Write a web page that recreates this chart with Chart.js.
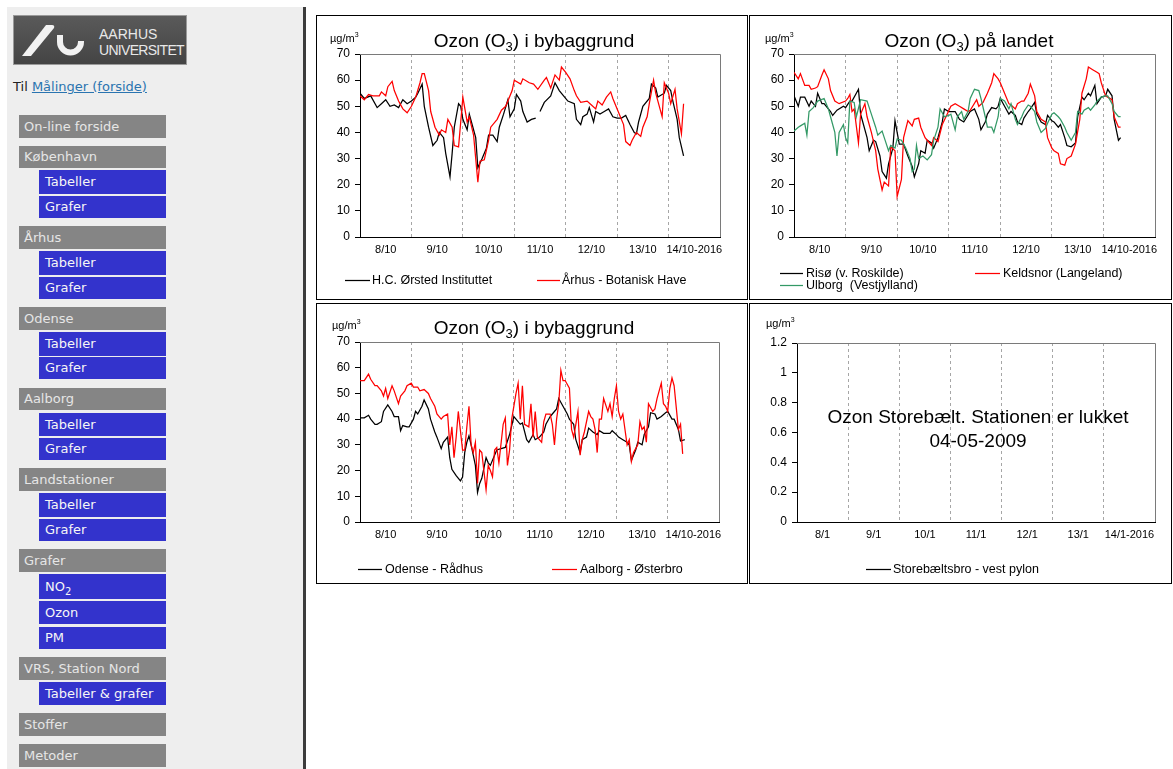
<!DOCTYPE html>
<html lang="da">
<head>
<meta charset="utf-8">
<title>Ozon (O₃) – målinger</title>
<script src="https://cdn.jsdelivr.net/npm/chart.js@4/dist/chart.umd.min.js"></script>
<style>
  html, body { margin: 0; padding: 0; background: #fff; }
  body { width: 1173px; height: 769px; position: relative; overflow: hidden;
         font-family: "DejaVu Sans", Verdana, sans-serif; }
  #side { position: absolute; left: 7px; top: 7px; width: 296px; height: 762px; background: #eeeeee; }
  #rule { position: absolute; left: 303px; top: 7px; width: 3px; height: 762px; background: #3c3c3c; }
  #logo { position: absolute; left: 13px; top: 15px; width: 174px; height: 50px; }
  #til { position: absolute; left: 13px; top: 79px; font-size: 13px; line-height: 16px; color: #222; }
  #til a { color: #2a74b0; text-decoration: underline; }
  .h, .s { position: absolute; font-size: 13px; box-sizing: border-box; white-space: nowrap; }
  .h { left: 19px; width: 147px; background: #858585; color: #e6e6e6; padding-left: 5px; }
  .s { left: 39px; width: 127px; background: #3333cc; color: #f6f6f6; padding-left: 6px; }
  .s sub { font-size: 10px; line-height: 0; vertical-align: -4px; }
  .panel { position: absolute; border: 1px solid #000; background: #fff; }
  .panel canvas { display: block; }
</style>
</head>
<body>
<div id="side"></div>
<div id="rule"></div>

<svg id="logo" width="174" height="50" viewBox="0 0 174 50" xmlns="http://www.w3.org/2000/svg">
  <defs>
    <linearGradient id="lg" x1="0" y1="0" x2="0" y2="1">
      <stop offset="0" stop-color="#5a5a5a"/>
      <stop offset="1" stop-color="#444444"/>
    </linearGradient>
  </defs>
  <rect x="0.5" y="0.5" width="173" height="49" fill="url(#lg)" stroke="#9a9a9a"/>
  <path d="M9,41 L18,41 L41,13 Q42,10 39,10 L33,10 Z" fill="#f2f2f2"/>
  <path d="M47,20 V27 A10.5,10.5 0 0 0 68,27 V26" fill="none" stroke="#f2f2f2" stroke-width="6"/>
  <text x="86" y="24" font-family="Liberation Sans, Arial, sans-serif" font-size="14" fill="#e8e8e8">AARHUS</text>
  <text x="86" y="40" font-family="Liberation Sans, Arial, sans-serif" font-size="14" letter-spacing="-0.7" fill="#e8e8e8">UNIVERSITET</text>
</svg>

<div id="til">Til <a href="#">Målinger (forside)</a></div>

<div class="h" style="top:115px;height:23px;line-height:23px">On-line forside</div>
<div class="h" style="top:146px;height:22px;line-height:22px">København</div>
<div class="s" style="top:170px;height:24px;line-height:24px">Tabeller</div>
<div class="s" style="top:196px;height:22px;line-height:22px">Grafer</div>
<div class="h" style="top:226px;height:23px;line-height:23px">Århus</div>
<div class="s" style="top:251px;height:24px;line-height:24px">Tabeller</div>
<div class="s" style="top:277px;height:22px;line-height:22px">Grafer</div>
<div class="h" style="top:307px;height:23px;line-height:23px">Odense</div>
<div class="s" style="top:332px;height:24px;line-height:24px">Tabeller</div>
<div class="s" style="top:357px;height:22px;line-height:22px">Grafer</div>
<div class="h" style="top:388px;height:22px;line-height:22px">Aalborg</div>
<div class="s" style="top:413px;height:23px;line-height:23px">Tabeller</div>
<div class="s" style="top:438px;height:22px;line-height:22px">Grafer</div>
<div class="h" style="top:468px;height:23px;line-height:23px">Landstationer</div>
<div class="s" style="top:493px;height:24px;line-height:24px">Tabeller</div>
<div class="s" style="top:519px;height:22px;line-height:22px">Grafer</div>
<div class="h" style="top:549px;height:23px;line-height:23px">Grafer</div>
<div class="s" style="top:574px;height:25px;line-height:25px">NO<sub>2</sub></div>
<div class="s" style="top:601px;height:23px;line-height:23px">Ozon</div>
<div class="s" style="top:627px;height:22px;line-height:22px">PM</div>
<div class="h" style="top:657px;height:23px;line-height:23px">VRS, Station Nord</div>
<div class="s" style="top:682px;height:23px;line-height:23px">Tabeller &amp; grafer</div>
<div class="h" style="top:713px;height:23px;line-height:23px">Stoffer</div>
<div class="h" style="top:744px;height:23px;line-height:23px">Metoder</div>

<div class="panel" style="left:316px;top:15px;width:430px;height:283px"><canvas id="c1" width="430" height="283"></canvas></div>
<div class="panel" style="left:749px;top:15px;width:421px;height:283px"><canvas id="c2" width="421" height="283"></canvas></div>
<div class="panel" style="left:316px;top:303px;width:430px;height:279px"><canvas id="c3" width="430" height="279"></canvas></div>
<div class="panel" style="left:749px;top:303px;width:421px;height:279px"><canvas id="c4" width="421" height="279"></canvas></div>

<script>
// ---- Axis labels -------------------------------------------------------
const octoberDays = ['8/10', '9/10', '10/10', '11/10', '12/10', '13/10', '14/10-2016'];
const januaryDays = ['8/1', '9/1', '10/1', '11/1', '12/1', '13/1', '14/1-2016'];

// ---- Ozone (µg/m³), hours counted from the start of 8/10 ---------------
// Bybaggrund: H.C. Ørsted Instituttet (null = missing measurements)
const hcoHours = [0,2,5,8,10,12,14,16,18,20,22,24,26,27,29,30,32,34,36,37,39,40,42,43,44,46,47,48,50,51,52,54,55,57,59,60,62,64,65,67,69,70,72,73,75,76,78,80,82,83,84,86,89,91,93,95,97,100,101,103,104,106,107,109,110,112,114,116,118,120,122,124,126,128,129,130,132,135,136,138,139,142,143,145,146,148,149,151];
const hcoValues = [55,53,54,49.5,51,52.5,50,50.5,49.5,52.5,51,52,53.5,55,58.5,50,42,35,37,40,38,32,23,32,42,51,50,45,41,47,44,38,26.5,30,34,39,39,36.5,42,47,52.5,46,49,54.5,52,48,44,45,45.5,null,48,51.5,54,59,56,54,52,51,45,43,46,47,49.5,44,48,47,48,49,46,45.5,45.5,46.5,43,40,39.5,44,50,53,58.5,57,53.5,55,58,56,52,45,38,31];

// Bybaggrund: Århus - Botanisk Have
const aarhusHours = [0,2,4,6,9,10,12,13,15,16,18,20,22,24,26,28,29,30,32,33,35,37,38,40,41,43,44,46,47,48,50,51,53,55,56,58,60,61,64,66,68,71,72,75,76,79,81,83,86,87,89,91,93,94,96,98,100,101,103,106,108,110,111,113,115,117,118,120,123,124,126,127,129,131,132,134,135,137,138,140,141,142,144,145,147,148,150,151];
const aarhusValues = [54,52.5,54.5,54,54,55.5,54,57.5,59.5,56,52,49,47.5,50,53.5,59,62.5,62.5,56,48,42,39,41,40,45,42,35,34.5,44,53.5,44,46,39,21,29,29.5,37,42,45,48.5,50,56,60,58.5,60.5,59,58.5,56.5,60,61,57,62,60,65,63,60.5,56,54,51.5,52,50.5,49,52,50.5,53.5,55.5,53,49,43,36.5,35,37,40,38.5,42,46,51,60,55,49,46,59,55,51,56.5,49,39.5,51];

// Landet: Risø (v. Roskilde)
const risoHours = [0,2,3,5,7,8,10,11,13,14,17,18,20,23,24,26,27,29,30,31,32,34,35,37,38,40,41,43,44,46,47,48,49,51,53,55,56,58,59,61,62,64,65,67,69,70,72,73,75,77,79,82,84,86,87,89,90,92,94,95,96,98,100,101,103,104,106,107,109,110,112,113,115,117,118,120,121,123,124,126,127,129,131,132,134,135,137,138,140,141,143,145,146,148,149,151,152];
const risoValues = [54,50,53.5,53.5,50,52,50,55,51,51,48,46.5,48.5,50,49.5,52,52,55,56.5,47,44,38,33,37,36.5,31,25,22.5,28,34,44.5,40,35.5,35.5,31,27,23,28,33,32,37,36,34,38,44,49,48,48,48,45,44,48,49,45,41,44,47,49.5,49,50,53,50,47,48,46.5,44,43,45.5,48,49,51.5,47,44,43,46.5,44.5,44,42,43,38,35,34.5,36,46,53.5,52.5,55,54,58,51,53.5,54,56.5,54,45,37,38];

// Landet: Keldsnor (Langeland)
const keldsnorHours = [0,2,3,5,7,8,10,11,13,14,16,17,19,21,24,25,26,27,28,30,31,33,34,36,38,39,41,42,44,45,47,48,50,51,53,55,56,58,59,61,62,64,65,67,69,71,73,75,77,79,81,82,85,86,88,90,92,93,95,96,98,100,101,103,104,106,107,109,110,112,113,115,117,118,120,121,123,124,126,127,129,131,133,134,136,137,139,141,142,143,145,146,148,149,151,152];
const keldsnorValues = [63,60.5,62.5,58,58,56.5,57,57.5,62,64,60.5,56,52,51,52,53,54.5,48,49,36,47,51,46,40,33,26,18,21,19.5,34.5,33,15.5,22,38,44.5,42.5,45,45.5,42,38,37,35,38,36.5,43,46.5,50,51,50,49,48,48.5,52.5,50,51.5,55,59,62.5,60.5,59,55,51,50.5,49,51,52,52,55,58.5,54,48,45,44,38,34,33,32,28,27.5,30,31,35.5,45,55,60.5,65,64,63,62.5,59,54,53.5,52.5,46,42,42];

// Landet: Ulborg (Vestjylland)
const ulborgHours = [0,2,3,5,6,7,9,11,14,16,17,19,20,21,23,24,25,26,28,29,31,34,36,38,39,41,42,44,45,47,48,50,52,54,55,56,57,58,60,62,64,65,67,68,70,72,73,75,76,78,79,81,82,84,86,87,89,90,92,93,95,96,98,100,101,103,104,106,107,109,110,112,113,115,117,118,120,121,123,124,126,127,129,131,132,134,135,137,138,140,141,143,145,146,148,149,151,152];
const ulborgValues = [40.5,42,42.5,43.5,39,48,49.5,52,53,49,46,40,31,40,43,38,36,52,51.5,46,52.5,52,47,42,39,40.5,38,33,35,34,37.5,37,34,30,25,26,35,30,31,29.5,31.5,37,42,49,46,46.5,47,41,46,48,45,48,53,56.5,56,53,46,42,42,40,46,53,52,49,51,45,43,46,48,50.5,50,48,44,40,41.5,43.5,47,47.5,46,45,42,40,37,40,48,47,48.5,49.5,48.5,50.5,52,53.5,54,54,51,48,46,46];

// Bybaggrund: Odense - Rådhus
const odenseHours = [0,2,4,5,7,8,10,11,13,15,16,18,19,20,22,23,25,26,27,29,30,32,33,35,36,38,39,41,42,43,45,47,48,49,50,51,52,54,55,56,57,59,60,61,64,66,68,70,72,73,75,76,78,79,81,82,84,86,87,89,90,92,93,95,97,98,100,101,103,104,106,107,109,111,112,114,115,117,118,120,121,123,125,126,127,129,130,132,133,135,136,138,139,141,143,144,146,147,149,150,152];
const odenseValues = [40.5,40.5,41.5,40,38,38,39,43,45.5,43,41,41,35.5,37.5,37,37,40,43,42,45,47.5,44,40,35,33,28.5,31,33,25,20.5,18,16,17.5,27,31,33.5,30,22,11.5,15,17,25,23,22,28,28.5,29,34,41,40,38,38.5,32,31,34,32,33,35,38,41,42,44,48,45,42,40,38,32,27,32,33,36.5,35,34,35.5,34.5,34.5,34.5,35.5,34,33,32,31,30,24,28,31,30,34,37,42.5,42,40,41,42.5,43,40,40,36,31.5,32];

// Bybaggrund: Aalborg - Østerbro
const aalborgHours = [0,2,4,5,7,8,10,11,12,13,15,16,18,19,21,22,24,25,27,28,30,32,33,35,36,38,39,41,42,43,44,45,46,48,49,50,51,52,53,54,55,56,57,59,60,61,62,63,64,65,67,68,69,70,71,73,74,75,76,77,79,80,81,82,83,85,86,87,89,90,91,92,93,94,95,96,98,99,100,101,102,103,104,105,107,108,109,110,111,112,113,114,116,117,118,119,120,121,122,123,125,126,127,128,130,131,132,133,134,135,137,138,139,141,142,143,144,145,146,147,149,150,151];
const aalborgValues = [55,55,57.5,55.5,53,53,51,49,52,48,53,51,46,49,51,53,54,52.5,52.5,51,51.5,50,48,45,42,40,41,42,30,37,25,33,43,28,28,37,45,30,27,31,15,28,27,12.5,22,20,17.5,28,29,23,38,40.5,22,28,40,50,54,40,53,38,37,46,33,43,33,31,39,42,42,38,30,40,46,59,55,55,52,36,33,38,43,26,32,35,43,41,40,36,27,40,40,48,43,46,41,48,53,43,40,42,30,32,23.5,27,30,39,36,37,31,46,43,44,48,54,46,45,43,52,56,53,36,38,26.5];

// Storebæltsbro - vest pylon: station closed, no measurements
const storebaeltHours = [];
const storebaeltValues = [];

// ---- Drawing ------------------------------------------------------------
const FONT = "'Liberation Sans', Arial, Helvetica, sans-serif";
Chart.defaults.font.family = FONT;
Chart.defaults.color = '#000';

function toPoints(hours, values) {
  return hours.map((h, i) => ({ x: h, y: values[i] }));
}

// Draws a row of text pieces where some pieces are sub- or superscripts.
function drawRuns(ctx, runs, x, base, size, centred) {
  const fontOf = k => (k ? Math.round(size * 0.68) : size) + 'px ' + FONT;
  const widths = runs.map(([t, k]) => { ctx.font = fontOf(k); return ctx.measureText(t).width; });
  const total = widths.reduce((a, b) => a + b, 0);
  let cx = centred ? x - total / 2 : x;
  ctx.textBaseline = 'alphabetic';
  ctx.textAlign = 'left';
  runs.forEach(([t, k], i) => {
    ctx.font = fontOf(k);
    const dy = k === 'sub' ? size * 0.2 : (k === 'sup' ? -size * 0.42 : 0);
    ctx.fillText(t, cx, base + dy);
    cx += widths[i];
  });
}

// Frame, title, unit, legend and notes of one chart panel.
function panelDecor(spec) {
  return {
    id: 'panelDecor',
    afterDraw(chart) {
      const { ctx, chartArea: a } = chart;
      ctx.save();
      ctx.strokeStyle = '#7a7a7a';
      ctx.lineWidth = 1;
      ctx.setLineDash([]);
      ctx.beginPath();
      ctx.moveTo(Math.round(a.left), Math.round(a.top) + 0.5);
      ctx.lineTo(Math.round(a.right) + 0.5, Math.round(a.top) + 0.5);
      ctx.lineTo(Math.round(a.right) + 0.5, Math.round(a.bottom));
      ctx.stroke();

      ctx.fillStyle = '#000';
      if (spec.title) drawRuns(ctx, spec.title.runs, spec.title.cx, spec.title.base, 19, true);
      drawRuns(ctx, [['µg/m'], ['3', 'sup']], spec.unit.x, spec.unit.base, 11, false);
      (spec.notes || []).forEach(n => drawRuns(ctx, [[n.text]], n.cx, n.base, 19, true));

      spec.legend.forEach(item => {
        const s = spec.series[item.index];
        ctx.strokeStyle = s.color;
        ctx.lineWidth = 1.25;
        ctx.beginPath();
        ctx.moveTo(item.x0, item.y + 0.5);
        ctx.lineTo(item.x1, item.y + 0.5);
        ctx.stroke();
        ctx.fillStyle = '#000';
        ctx.font = '12.5px ' + FONT;
        ctx.textBaseline = 'middle';
        ctx.textAlign = 'left';
        ctx.fillText(s.label, item.tx, item.y + 1);
      });
      ctx.restore();
    }
  };
}

function buildChart(spec) {
  const canvas = document.getElementById(spec.id);
  const W = canvas.width, H = canvas.height;
  const a = spec.area;
  const dayPx = (a.right - a.left) / 7;
  return new Chart(canvas, {
    type: 'line',
    data: {
      datasets: spec.series.map(s => ({
        label: s.label,
        data: toPoints(s.hours, s.values),
        borderColor: s.color,
        borderWidth: 1.25,
        pointRadius: 0,
        tension: 0,
        fill: false,
        spanGaps: false,
        order: s.order
      }))
    },
    options: {
      responsive: false,
      animation: false,
      events: [],
      layout: { padding: { left: 0, top: a.top, right: W - a.right, bottom: 0 } },
      plugins: { legend: { display: false }, title: { display: false }, tooltip: { enabled: false } },
      scales: {
        x: {
          type: 'linear', min: 0, max: 168,
          afterFit: s => { s.height = H - a.bottom; },
          ticks: {
            stepSize: 24, autoSkip: false, maxRotation: 0, minRotation: 0,
            padding: 6, labelOffset: dayPx / 2, color: '#000',
            font: { family: FONT, size: 11 },
            callback: (v, i) => spec.labels[i] ?? ''
          },
          grid: {
            drawTicks: false, lineWidth: 1,
            color: c => (c.index > 0 && c.index < 7) ? '#a6a6a6' : 'rgba(0,0,0,0)'
          },
          border: { display: true, color: '#000', width: 1, dash: [3, 3] }
        },
        y: {
          min: 0, max: spec.yMax,
          afterFit: s => { s.width = a.left; },
          ticks: {
            stepSize: spec.yStep, padding: 5, color: '#000',
            font: { family: FONT, size: 12 },
            callback: v => String(Math.round(v * 10) / 10)
          },
          grid: { drawOnChartArea: false, drawTicks: true, tickLength: 5, color: '#000' },
          border: { display: true, color: '#000', width: 1 }
        }
      }
    },
    plugins: [panelDecor(spec)]
  });
}

buildChart({
  id: 'c1', area: { left: 43, right: 403, top: 38, bottom: 221 },
  labels: octoberDays, yMax: 70, yStep: 10,
  series: [
    { label: 'H.C. Ørsted Instituttet', hours: hcoHours, values: hcoValues, color: '#000000', order: 1 },
    { label: 'Århus - Botanisk Have', hours: aarhusHours, values: aarhusValues, color: '#ff0000', order: 0 }
  ],
  title: { cx: 217, base: 31, runs: [['Ozon (O'], ['3', 'sub'], [') i bybaggrund']] },
  unit: { x: 13, base: 26 },
  legend: [{ index: 0, x0: 28, x1: 53, tx: 55, y: 264 }, { index: 1, x0: 220, x1: 243, tx: 245, y: 264 }]
});

buildChart({
  id: 'c2', area: { left: 44, right: 405, top: 38, bottom: 221 },
  labels: octoberDays, yMax: 70, yStep: 10,
  series: [
    { label: 'Risø (v. Roskilde)', hours: risoHours, values: risoValues, color: '#000000', order: 2 },
    { label: 'Keldsnor (Langeland)', hours: keldsnorHours, values: keldsnorValues, color: '#ff0000', order: 1 },
    { label: 'Ulborg  (Vestjylland)', hours: ulborgHours, values: ulborgValues, color: '#339966', order: 0 }
  ],
  title: { cx: 219, base: 31, runs: [['Ozon (O'], ['3', 'sub'], [') på landet']] },
  unit: { x: 15, base: 26 },
  legend: [
    { index: 0, x0: 30, x1: 53, tx: 56, y: 257 },
    { index: 1, x0: 225, x1: 250, tx: 253, y: 257 },
    { index: 2, x0: 30, x1: 53, tx: 56, y: 269 }
  ]
});

buildChart({
  id: 'c3', area: { left: 43, right: 402, top: 38, bottom: 218 },
  labels: octoberDays, yMax: 70, yStep: 10,
  series: [
    { label: 'Odense - Rådhus', hours: odenseHours, values: odenseValues, color: '#000000', order: 1 },
    { label: 'Aalborg - Østerbro', hours: aalborgHours, values: aalborgValues, color: '#ff0000', order: 0 }
  ],
  title: { cx: 217, base: 30, runs: [['Ozon (O'], ['3', 'sub'], [') i bybaggrund']] },
  unit: { x: 15, base: 25 },
  legend: [{ index: 0, x0: 41, x1: 65, tx: 68, y: 265 }, { index: 1, x0: 235, x1: 260, tx: 263, y: 265 }]
});

buildChart({
  id: 'c4', area: { left: 47, right: 405, top: 39, bottom: 218 },
  labels: januaryDays, yMax: 1.2, yStep: 0.2,
  series: [
    { label: 'Storebæltsbro - vest pylon', hours: storebaeltHours, values: storebaeltValues, color: '#000000', order: 0 }
  ],
  unit: { x: 16, base: 23 },
  notes: [
    { text: 'Ozon Storebælt. Stationen er lukket', cx: 228, base: 119 },
    { text: '04-05-2009', cx: 228, base: 143 }
  ],
  legend: [{ index: 0, x0: 116, x1: 141, tx: 143, y: 265 }]
});
</script>
</body>
</html>
